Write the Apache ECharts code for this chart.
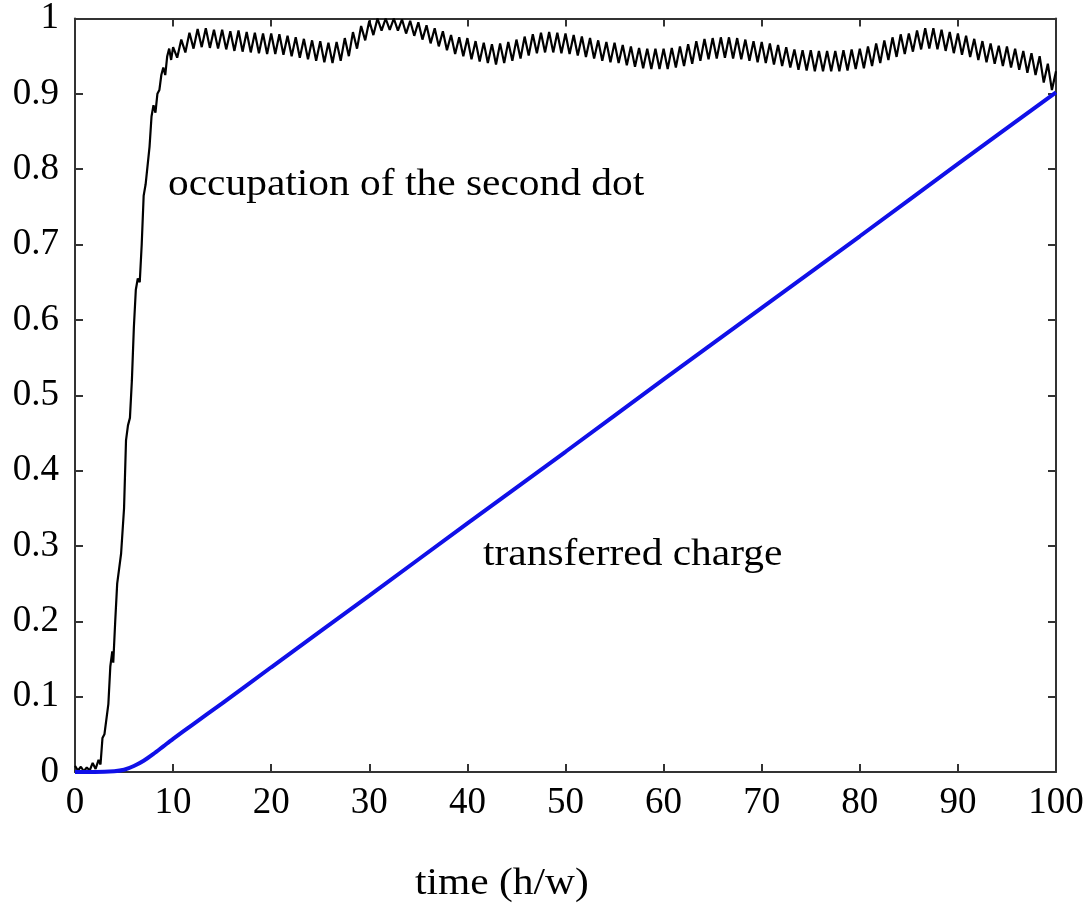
<!DOCTYPE html>
<html>
<head>
    <meta charset="UTF-8">
    <title>occupation / transferred charge</title>
    <script src="https://cdn.jsdelivr.net/npm/echarts@6/dist/echarts.min.js"></script>
    <style>
        html, body { margin: 0; padding: 0; background: #fff; }
        #chart { width: 1089px; height: 913px; }
    </style>
</head>
<body>
<div id="chart"></div>
<script>
    // rise of the occupation (time, value)
    var riseTime = [0, 0.3, 0.6, 0.9, 1.2, 1.5, 1.8, 2.1, 2.4, 2.6, 2.8, 3.0, 3.2, 3.4, 3.6, 3.8, 3.9, 4.1, 4.3, 4.5,
        4.7, 4.8, 5.0, 5.2, 5.4, 5.6, 5.8, 6.0, 6.2, 6.4, 6.6, 6.8, 7.0, 7.2, 7.4, 7.6, 7.8, 8.0, 8.2, 8.4,
        8.6, 8.8, 9.0, 9.2, 9.4, 9.6, 9.8];
    var riseOcc = [0.008, 0.002, 0.007, 0.001, 0.006, 0.002, 0.012, 0.004, 0.016, 0.010, 0.045, 0.050, 0.048, 0.090, 0.140, 0.160, 0.145, 0.200, 0.250, 0.270,
        0.290, 0.290, 0.350, 0.440, 0.460, 0.470, 0.520, 0.590, 0.640, 0.655, 0.650, 0.700, 0.765, 0.780, 0.780, 0.830, 0.870, 0.885, 0.875, 0.900,
        0.905, 0.925, 0.935, 0.925, 0.950, 0.960, 0.945];

    // oscillating plateau, sampled every 5/12 time units from t = 10
    var plateauStart = 10;
    var plateauStep = 5 / 12;
    var plateauOcc = [
        0.962, 0.948, 0.972, 0.955, 0.981, 0.960, 0.986, 0.962, 0.987, 0.961, 0.985, 0.960,
        0.985, 0.959, 0.983, 0.957, 0.984, 0.956, 0.982, 0.955, 0.981, 0.954, 0.980, 0.953,
        0.980, 0.953, 0.979, 0.952, 0.977, 0.950, 0.975, 0.948, 0.973, 0.946, 0.971, 0.944,
        0.970, 0.942, 0.968, 0.941, 0.969, 0.944, 0.974, 0.950, 0.982, 0.960, 0.990, 0.971,
        0.997, 0.978, 1.000, 0.984, 1.000, 0.985, 1.000, 0.984, 0.999, 0.980, 0.997, 0.977,
        0.995, 0.972, 0.991, 0.967, 0.987, 0.963, 0.983, 0.958, 0.978, 0.953, 0.975, 0.950,
        0.974, 0.946, 0.970, 0.943, 0.968, 0.941, 0.966, 0.939, 0.967, 0.941, 0.969, 0.944,
        0.972, 0.947, 0.976, 0.951, 0.979, 0.954, 0.981, 0.955, 0.982, 0.955, 0.981, 0.954,
        0.980, 0.953, 0.978, 0.951, 0.976, 0.949, 0.974, 0.947, 0.971, 0.944, 0.969, 0.942,
        0.968, 0.941, 0.965, 0.938, 0.963, 0.936, 0.961, 0.934, 0.960, 0.933, 0.960, 0.933,
        0.960, 0.933, 0.961, 0.935, 0.963, 0.937, 0.966, 0.940, 0.970, 0.944, 0.973, 0.946,
        0.974, 0.947, 0.975, 0.948, 0.975, 0.947, 0.974, 0.946, 0.972, 0.944, 0.970, 0.942,
        0.969, 0.941, 0.967, 0.939, 0.965, 0.937, 0.962, 0.935, 0.959, 0.932, 0.958, 0.931,
        0.958, 0.930, 0.957, 0.930, 0.957, 0.930, 0.957, 0.930, 0.958, 0.931, 0.959, 0.933,
        0.960, 0.934, 0.963, 0.937, 0.967, 0.941, 0.971, 0.945, 0.975, 0.949, 0.979, 0.953,
        0.980, 0.956, 0.984, 0.959, 0.987, 0.960, 0.987, 0.959, 0.985, 0.957, 0.982, 0.954,
        0.980, 0.952, 0.977, 0.949, 0.973, 0.945, 0.970, 0.942, 0.967, 0.940, 0.964, 0.937,
        0.963, 0.935, 0.960, 0.932, 0.957, 0.928, 0.954, 0.925, 0.950, 0.915, 0.940, 0.905,
        0.930
    ];

    // transferred charge
    var chargeTime = [0, 2, 4, 5, 6, 7, 8, 9, 10, 12, 15, 20, 30, 40, 50, 60, 70, 80, 90, 100];
    var chargeValue = [0, 0, 0.001, 0.003, 0.008, 0.015, 0.024, 0.034, 0.044, 0.063, 0.091, 0.139, 0.234, 0.330, 0.425, 0.521, 0.616, 0.711, 0.807, 0.902];

    var occData = [];
    for (var i = 0; i < riseTime.length; i++) {
        occData.push([riseTime[i], riseOcc[i]]);
    }
    for (var j = 0; j < plateauOcc.length; j++) {
        occData.push([plateauStart + j * plateauStep, plateauOcc[j]]);
    }
    var chargeData = chargeTime.map(function (t, k) { return [t, chargeValue[k]]; });

    var serif = "'Liberation Serif', 'DejaVu Serif', serif";
    var axisColor = '#333';
    var tickStyle = {inside: true, length: 8, lineStyle: {color: axisColor, width: 2}};
    var lineStyle = {onZero: false, lineStyle: {color: axisColor, width: 2}};

    function label(txt, x, y) {
        return {
            type: 'text', x: x, y: y, scaleX: 1.09,
            style: {
                text: txt, font: '38px ' + serif, fill: '#000',
                textVerticalAlign: 'middle', verticalAlign: 'middle'
            }
        };
    }

    var myChart = echarts.init(document.getElementById('chart'));
    var option = {
        animation: false,
        backgroundColor: '#fff',
        grid: {left: 75, right: 33, top: 18, bottom: 141},
        xAxis: [
            {
                type: 'value', min: 0, max: 100, interval: 10,
                axisLine: lineStyle,
                axisTick: tickStyle,
                axisLabel: {fontFamily: serif, fontSize: 37, color: '#000', margin: 13},
                splitLine: {show: false}
            },
            {
                type: 'value', min: 0, max: 100, interval: 10, position: 'top',
                axisLine: lineStyle,
                axisTick: tickStyle,
                axisLabel: {show: false},
                splitLine: {show: false}
            }
        ],
        yAxis: [
            {
                type: 'value', min: 0, max: 1, interval: 0.1,
                axisLine: {show: true, onZero: false, lineStyle: {color: axisColor, width: 2}},
                axisTick: {show: true, inside: true, length: 8, lineStyle: {color: axisColor, width: 2}},
                axisLabel: {
                    fontFamily: serif, fontSize: 37, color: '#000', margin: 16,
                    formatter: function (v) { return String(Math.round(v * 10) / 10); }
                },
                splitLine: {show: false}
            },
            {
                type: 'value', min: 0, max: 1, interval: 0.1, position: 'right',
                axisLine: {show: true, onZero: false, lineStyle: {color: axisColor, width: 2}},
                axisTick: {show: true, inside: true, length: 8, lineStyle: {color: axisColor, width: 2}},
                axisLabel: {show: false},
                splitLine: {show: false}
            }
        ],
        series: [
            {
                name: 'occupation of the second dot',
                type: 'line',
                data: occData,
                showSymbol: false,
                clip: true,
                lineStyle: {color: '#000', width: 2.2}
            },
            {
                name: 'transferred charge',
                type: 'line',
                data: chargeData,
                showSymbol: false,
                smooth: 0.3,
                lineStyle: {color: '#1010e8', width: 4}
            }
        ],
        graphic: [
            label('occupation of the second dot', 168, 185),
            label('transferred charge', 483, 555),
            label('time (h/w)', 415, 884)
        ]
    };
    myChart.setOption(option);
</script>
</body>
</html>
